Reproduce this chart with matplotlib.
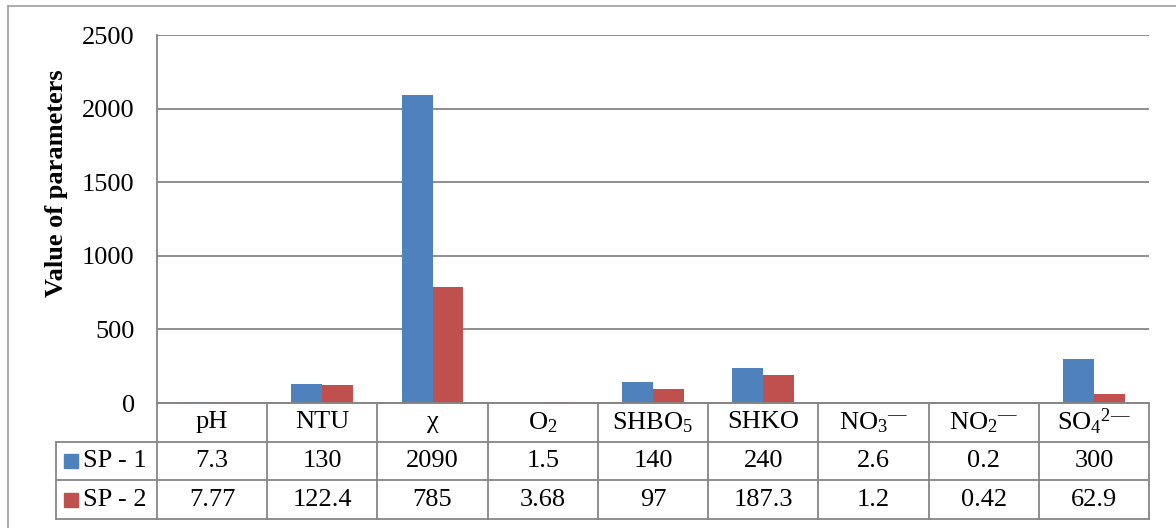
import numpy as np
import matplotlib
matplotlib.use("Agg")
import matplotlib.pyplot as plt
from matplotlib.lines import Line2D

############################################################################################
# data
############################################################################################

categories = ['pH', 'NTU', 'χ', r'O$_2$', r'SHBO$_5$', 'SHKO',
              r'NO$_3$$^{—}$', r'NO$_2$$^{—}$', r'SO$_4$$^{2—}$']
series_names = ['SP - 1', 'SP - 2']
sp1 = [7.3, 130, 2090, 1.5, 140, 240, 2.6, 0.2, 300]
sp2 = [7.77, 122.4, 785, 3.68, 97, 187.3, 1.2, 0.42, 62.9]
sp1_text = ['7.3', '130', '2090', '1.5', '140', '240', '2.6', '0.2', '300']
sp2_text = ['7.77', '122.4', '785', '3.68', '97', '187.3', '1.2', '0.42', '62.9']
y_ticks = [0, 500, 1000, 1500, 2000, 2500]

############################################################################################
# style
############################################################################################

plt.rcParams['font.family'] = ['Liberation Serif', 'DejaVu Serif']
plt.rcParams['mathtext.fontset'] = 'custom'
plt.rcParams['mathtext.rm'] = 'Liberation Serif'
plt.rcParams['mathtext.it'] = 'Liberation Serif:italic'
plt.rcParams['mathtext.bf'] = 'Liberation Serif:bold'
plt.rcParams['mathtext.default'] = 'rm'

blue = '#4F81BD'
red = '#C0504D'
grid_col = '#868686'
fs = 19

W, H = 1176, 528
fig = plt.figure(figsize=(W / 100, H / 100), dpi=100)

# pixel helpers
px_left, px_right = 157, 1149
px_top, px_zero = 35, 403
px_lab = 56
px_tbot = 519

ax = fig.add_axes([px_left / W, 1 - px_zero / H, (px_right - px_left) / W, (px_zero - px_top) / H])

############################################################################################
# bars
############################################################################################

n = len(categories)
x = np.arange(n) + 0.5
bw = 0.28
ax.bar(x - bw / 2, sp1, bw, color=blue, zorder=3)
ax.bar(x + bw / 2, sp2, bw, color=red, zorder=3)

ax.set_xlim(0, n)
ax.set_ylim(0, 2500)
ax.set_yticks(y_ticks)
ax.set_yticklabels([str(t) for t in y_ticks], fontsize=fs)
ax.tick_params(axis='y', length=0, pad=16)
ax.set_xticks([])
ax.grid(axis='y', color=grid_col, linewidth=1.3, zorder=0)
for s in ['top', 'right']:
    ax.spines[s].set_visible(False)
ax.spines['left'].set_color(grid_col)
ax.spines['left'].set_linewidth(1.3)
ax.spines['bottom'].set_color(grid_col)
ax.spines['bottom'].set_linewidth(1.3)

fig.text(57 / W, 1 - 183 / H, 'Value of parameters', rotation=90, ha='center', va='center',
         fontsize=fs, fontweight='bold')

############################################################################################
# data table
############################################################################################

lab_w = (px_left - px_lab) / ((px_right - px_left) / n)
tax = fig.add_axes([px_lab / W, 1 - px_tbot / H, (px_right - px_lab) / W, (px_tbot - px_zero) / H])
tax.set_xlim(-lab_w, n)
tax.set_ylim(3, 0)
tax.axis('off')

lkw = dict(color=grid_col, linewidth=1.3, solid_capstyle='projecting', clip_on=False)
tax.plot([0, n], [0, 0], **lkw)
for r in [1, 2, 3]:
    tax.plot([-lab_w, n], [r, r], **lkw)
for c in range(n + 1):
    tax.plot([c, c], [0, 3], **lkw)
tax.plot([-lab_w, -lab_w], [1, 3], **lkw)

for i in range(n):
    tax.text(i + 0.5, 0.5, categories[i], ha='center', va='center', fontsize=fs)
    tax.text(i + 0.5, 1.5, sp1_text[i], ha='center', va='center', fontsize=fs)
    tax.text(i + 0.5, 2.5, sp2_text[i], ha='center', va='center', fontsize=fs)

for r, (name, col) in enumerate(zip(series_names, [blue, red])):
    tax.plot([-lab_w + 0.14], [r + 1.5], marker='s', markersize=9.4, color=col, linestyle='none')
    tax.text(-lab_w + 0.245, r + 1.5, name, ha='left', va='center', fontsize=fs)

############################################################################################
# outer border
############################################################################################

bcol = '#A6A6A6'
fig.add_artist(Line2D([8 / W, 8 / W], [0, 1 - 6 / H], color=bcol, linewidth=1.3))
fig.add_artist(Line2D([8 / W, 1], [1 - 6 / H, 1 - 6 / H], color=bcol, linewidth=1.3))

fig.savefig('out.png', dpi=100)
